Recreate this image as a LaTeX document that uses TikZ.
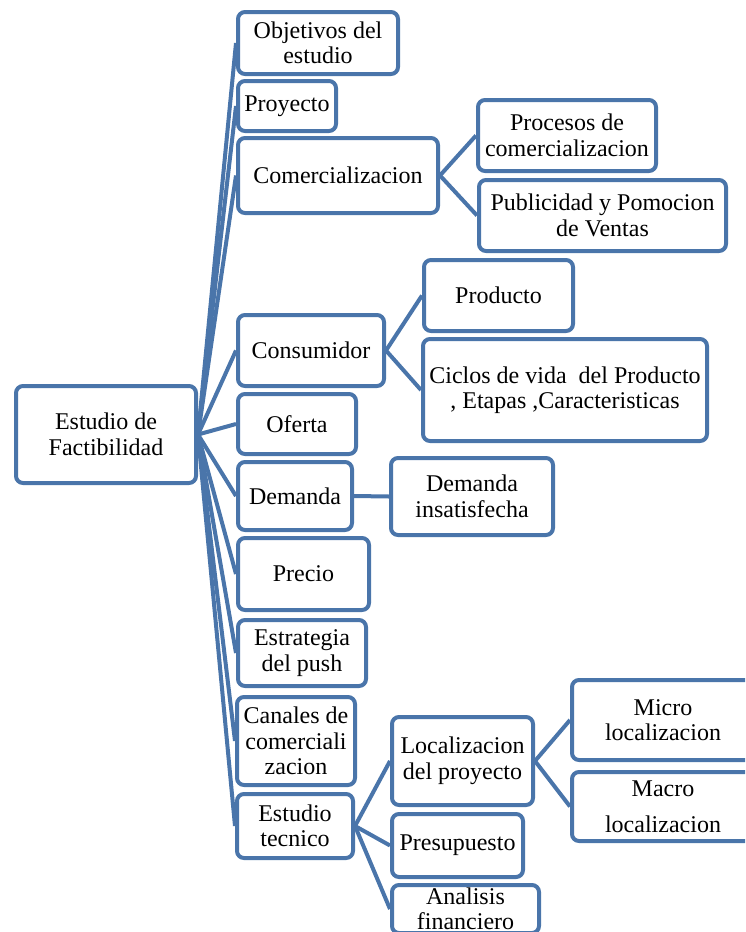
\documentclass[tikz,border=0pt]{standalone}
\usepackage{fontspec}
\setmainfont{Liberation Serif}
\usepackage{tikz}
\usetikzlibrary{backgrounds}
\definecolor{boxblue}{RGB}{74,117,170}

\begin{document}
\begin{tikzpicture}[
		x=1pt, y=-1pt,
		every node/.style={rectangle, draw=boxblue, line width=4pt, rounded corners=7pt, fill=white,
			align=center, inner sep=2pt, font=\fontsize{24}{25.5}\selectfont},
		link/.style={draw=boxblue, line width=4pt}
	]
  \useasboundingbox (0,0) rectangle (745,932);
  \clip (0,0) rectangle (745,932);
  % root and first level
  \node (root) [minimum width=180, minimum height=97] at (106, 434.5) {Estudio de\\Factibilidad};
  \node (obj) [minimum width=160, minimum height=62] at (318, 43) {Objetivos del\\estudio};
  \node (proy) [minimum width=98, minimum height=50] at (287, 106) {Proyecto};
  \node (comer) [minimum width=200, minimum height=75] at (338, 175.5) {Comercializacion};
  \node (cons) [minimum width=146, minimum height=71] at (311, 350.5) {Consumidor};
  \node (ofer) [minimum width=118, minimum height=60] at (297, 424) {Oferta};
  \node (dem) [minimum width=114, minimum height=68] at (295, 496) {Demanda};
  \node (prec) [minimum width=131, minimum height=72] at (303.5, 574) {Precio};
  \node (estr) [minimum width=128, minimum height=66] at (302, 653) {Estrategia\\del push};
  \node (canal) [minimum width=118, minimum height=88] at (296, 741) {Canales de\\comerciali\\zacion};
  \node (tec) [minimum width=116, minimum height=64] at (295, 826) {Estudio\\tecnico};
  % second level
  \node (proc) [minimum width=178, minimum height=71] at (567, 135.5) {Procesos de\\comercializacion};
  \node (publ) [minimum width=247, minimum height=71] at (602.5, 215.5) {Publicidad y Pomocion\\de Ventas};
  \node (prod) [minimum width=149, minimum height=71] at (498.5, 295.5) {Producto};
  \node (ciclo) [minimum width=284, minimum height=102] at (565, 390) {Ciclos de vida~ del Producto\\, Etapas ,Caracteristicas};
  \node (dins) [minimum width=162, minimum height=77] at (472, 496.5) {Demanda\\insatisfecha};
  \node (loc) [minimum width=141, minimum height=88] at (462.5, 761) {Localizacion\\del proyecto};
  \node (pres) [minimum width=131, minimum height=63] at (457.5, 845.5) {Presupuesto};
  \node (anal) [minimum width=147, minimum height=48] at (465.5, 909) {Analisis\\financiero};
  % third level
  \node (micro) [minimum width=182, minimum height=80] at (663, 720) {Micro\\localizacion};
  \node (macro) [minimum width=182, minimum height=69] at (663, 806.5) {Macro\\[10pt]localizacion};
  % connectors, behind the boxes
  \begin{scope}[on background layer]
    \draw (root.east) edge [link] (obj.west);
    \draw (root.east) edge [link] (proy.west);
    \draw (root.east) edge [link] (comer.west);
    \draw (root.east) edge [link] (cons.west);
    \draw (root.east) edge [link] (ofer.west);
    \draw (root.east) edge [link] (dem.west);
    \draw (root.east) edge [link] (prec.west);
    \draw (root.east) edge [link] (estr.west);
    \draw (root.east) edge [link] (canal.west);
    \draw (root.east) edge [link] (tec.west);
    \draw (comer.east) edge [link] (proc.west);
    \draw (comer.east) edge [link] (publ.west);
    \draw (cons.east) edge [link] (prod.west);
    \draw (cons.east) edge [link] (ciclo.west);
    \draw (dem.east) edge [link] (dins.west);
    \draw (tec.east) edge [link] (loc.west);
    \draw (tec.east) edge [link] (pres.west);
    \draw (tec.east) edge [link] (anal.west);
    \draw (loc.east) edge [link] (micro.west);
    \draw (loc.east) edge [link] (macro.west);
  \end{scope}
\end{tikzpicture}
\end{document}
